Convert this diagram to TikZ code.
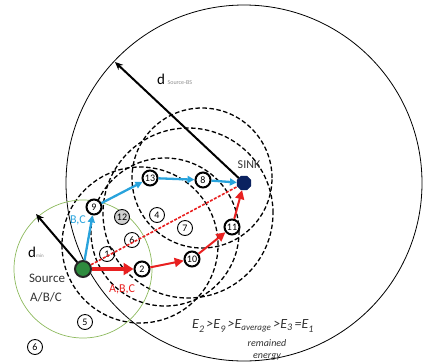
\documentclass[tikz,border=0pt]{standalone}
\usepackage{fontspec}
\setmainfont{Carlito}
\usetikzlibrary{arrows.meta,shapes.geometric}
\definecolor{bl}{HTML}{29A3DC}
\definecolor{rd}{HTML}{E82020}
\definecolor{gr}{HTML}{2E8B3E}
\definecolor{nv}{HTML}{0B2260}
\definecolor{gc}{HTML}{8DBA5E}
\definecolor{txt}{HTML}{333333}
\begin{document}
\begin{tikzpicture}[x=1pt,y=-1pt,
  thk/.style={circle,draw,fill=white,line width=2pt,minimum size=15pt,inner sep=0pt,font=\fontsize{10}{10}\selectfont},
  thn/.style={circle,draw,line width=0.9pt,minimum size=15pt,inner sep=0pt,font=\fontsize{10}{10}\selectfont},
  grn/.style={thn,fill=black!18},
  srcst/.style={circle,draw=black!85,fill=gr,line width=2pt,minimum size=16pt,inner sep=0pt},
  sinkst/.style={regular polygon,regular polygon sides=8,fill=nv,draw=nv,minimum size=15pt,inner sep=0pt},
  rng/.style={dash pattern=on 4.5pt off 2.5pt,line width=1.3pt},
  barr/.style={bl,line width=2.3pt,-{Triangle[length=7pt,width=7pt]}},
  rarr/.style={rd,line width=2pt,-{Triangle[length=9pt,width=9pt]}},
  rarrT/.style={rd,line width=4pt,-{Triangle[length=10pt,width=12pt]}},
  rdsh/.style={rd,line width=1.6pt,dash pattern=on 3pt off 1.5pt},
  karr/.style={black,line width=2pt,-{Stealth[length=8pt,width=7pt]}},
  lbl/.style={font=\fontsize{13}{13}\selectfont,text=txt,inner sep=0pt}
]
\useasboundingbox (0,0) rectangle (427,362);

% node positions
\coordinate (pS) at (83,269);
\coordinate (pK) at (244,183);

% range circles
\draw[rng] (202,178) circle[radius=70pt];
\draw[rng] (165,232) circle[radius=74pt];
\draw[rng] (140,245) circle[radius=78pt];
\draw[rng] (188,213) circle[radius=85pt];

% big circle and d_min circle
\draw[line width=0.8pt] (pK) circle[radius=178pt];
\draw[gc,line width=0.7pt] (pS) circle[radius=69pt];

% nodes
\node[srcst] (S) at (pS) {};
\node[sinkst] (K) at (pK) {};
\node[thk] (n9) at (94,207) {9};
\node[thk] (n13) at (150,178) {13};
\node[thk] (n8) at (203,180) {8};
\node[grn] (n12) at (122,217) {12};
\node[thn,fill=white] (n4) at (157,215) {4};
\node[thn,fill=white] (n7) at (185,228) {7};
\node[thn] (n6i) at (132,240) {6};
\node[thn] (n1) at (107,254) {1};
\node[thk] (n2) at (142,269) {2};
\node[thk] (n10) at (192,259) {10};
\node[thk] (n11) at (232,227) {11};
\node[thn] (n5) at (85,322) {5};
\node[thn] (n6) at (35,347) {6};

% free ends
\coordinate (dsb) at (115,62);
\coordinate (dmn) at (36,214);

% arrows
\draw[karr] (K) -- (dsb);
\draw[karr] (S) -- (dmn);
\draw[rdsh] (S) -- (K);
\draw[barr] (S) -- (n9);
\draw[barr] (n9) -- (n13);
\draw[barr] (n13) -- (n8);
\draw[barr] (n8) -- (K);
\draw[rarrT] (S) -- (n2);
\draw[rarr] (n2) -- (n10);
\draw[rarr] (n10) -- (n11);
\draw[rarr] (n11) -- (K);

% labels
\node[anchor=base west,inner sep=0pt] (tdsb) at (157,84) {\fontsize{15}{15}\selectfont d\,\raisebox{0pt}{\fontsize{6}{6}\selectfont\color{black!45}Source-BS}};
\node[anchor=base west,inner sep=0pt] (tdmn) at (28,257) {\fontsize{15}{15}\selectfont d\raisebox{0pt}{\fontsize{5}{5}\selectfont\color{black!45}min}};
\node[lbl] (tsrc) at (47,278) {Source};
\node[lbl] (tabc) at (46,297) {A/B/C};
\node[lbl,font=\fontsize{12}{12}\selectfont] (tsink) at (249,165) {SINK};
\node[lbl,text=bl,font=\fontsize{12}{12}\selectfont] (tbc) at (78,220) {B,C};
\node[lbl,text=rd,font=\fontsize{12}{12}\selectfont] (tabcr) at (122,289) {A,B,C};

\node[anchor=base west,inner sep=0pt,text=txt] (eq) at (192,328) {\itshape\fontsize{14}{14}\selectfont E\raisebox{-4pt}{\fontsize{10}{10}\selectfont 2}\,>E\raisebox{-4pt}{\fontsize{10}{10}\selectfont 9}\,>E\raisebox{-2.5pt}{\fontsize{9}{9}\selectfont average}\,>E\raisebox{-2pt}{\fontsize{10}{10}\selectfont 3}\,=E\raisebox{-4pt}{\fontsize{10}{10}\selectfont 1}};
\node[lbl,font=\itshape\fontsize{10}{10}\selectfont] (trem) at (267,343) {remained};
\node[lbl,font=\itshape\fontsize{10}{10}\selectfont] (tene) at (267,357) {energy};
\end{tikzpicture}
\end{document}
